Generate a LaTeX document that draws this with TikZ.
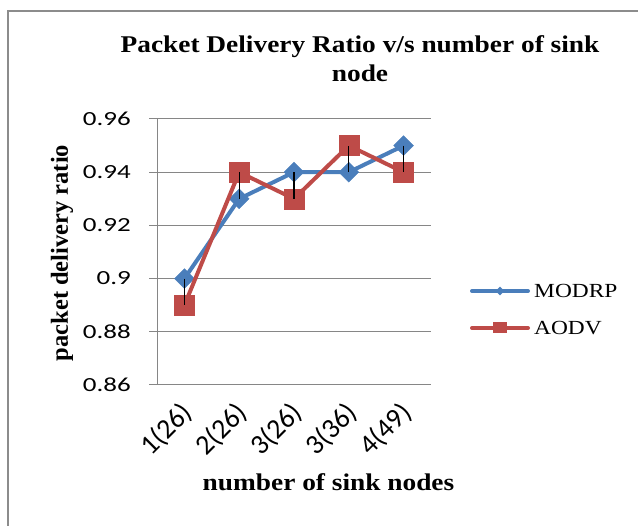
\documentclass[tikz,border=0pt]{standalone}
\usepackage{fontspec}
\usetikzlibrary{shapes.geometric}
\newfontfamily\titlefont[FakeStretch=1.14]{Liberation Serif}
\newfontfamily\ytitlefont{Liberation Serif}
\newfontfamily\tickfont[FakeStretch=1.35]{Carlito}
\newfontfamily\xtickfont{Carlito}
\newfontfamily\legfont[FakeStretch=1.17]{Liberation Serif}
\definecolor{modrp}{HTML}{4A7EBB}
\definecolor{aodv}{HTML}{BE4B48}
\definecolor{gridgray}{HTML}{868686}
\definecolor{framegray}{HTML}{8C8C8C}
\tikzset{
  gridline/.style={draw=gridgray, line width=1pt},
  modline/.style={draw=modrp, line width=4pt, line join=round, line cap=round},
  aodvline/.style={draw=aodv, line width=4pt, line join=round, line cap=round},
  modmark/.style={diamond, fill=modrp, draw=modrp, minimum size=20pt, inner sep=0pt},
  aodvmark/.style={rectangle, fill=aodv, draw=aodv, minimum size=20pt, inner sep=0pt},
  hilo/.style={draw=black, line width=1.3pt},
  ytick/.style={anchor=base east, inner sep=0pt, font=\tickfont\fontsize{20}{24}\selectfont},
  xtick/.style={anchor=center, rotate=45, inner sep=0pt, font=\xtickfont\fontsize{28}{32}\selectfont},
  titletext/.style={inner sep=0pt, font=\titlefont\bfseries\fontsize{24}{28}\selectfont},
  ytitletext/.style={inner sep=0pt, rotate=90, font=\ytitlefont\bfseries\fontsize{24.5}{28}\selectfont},
  legtext/.style={anchor=base west, inner sep=0pt, font=\legfont\fontsize{20}{24}\selectfont},
}
\begin{document}
\begin{tikzpicture}[x=1pt,y=-1pt]
\useasboundingbox (0,0) rectangle (638,526);
% outer frame
\coordinate (fBL) at (8,540);
\coordinate (fTL) at (8,11);
\coordinate (fTR) at (650,11);
\draw[framegray, line width=2.5pt] (fBL) -- (fTL) -- (fTR);
% gridlines and y labels
\foreach \v/\yy/\lab in {96/119/0.96, 94/172.2/0.94, 92/225.4/0.92, 90/278.6/0.9, 88/331.8/0.88, 86/385/0.86} {
  \coordinate (gl\v) at (149,\yy);
  \coordinate (gr\v) at (431,\yy);
  \draw[gridline] (gl\v) -- (gr\v);
  \node[ytick] (yl\v) at (131,\yy+6.3) {\lab};
}
% y axis
\coordinate (yaxT) at (157,119);
\coordinate (yaxB) at (157,385);
\draw[gridline] (yaxT) -- (yaxB);
% data points
\foreach \i/\xx/\m/\a in {1/184.4/278.6/305.2, 2/239.2/198.8/172.2, 3/294/172.2/198.8, 4/348.8/172.2/145.6, 5/403.6/145.6/172.2} {
  \coordinate (m\i) at (\xx,\m);
  \coordinate (a\i) at (\xx,\a);
}
\draw[modline] (m1) -- (m2) -- (m3) -- (m4) -- (m5);
\foreach \i in {1,...,5} { \node[modmark] (mk\i) at (m\i) {}; }
\draw[aodvline] (a1) -- (a2) -- (a3) -- (a4) -- (a5);
\foreach \i in {1,...,5} { \node[aodvmark] (ak\i) at (a\i) {}; }
\foreach \i in {1,...,5} { \draw[hilo] (m\i) -- (a\i); }
% x tick labels
\foreach \i/\xx/\lab in {1/184.4/1(26), 2/239.2/2(26), 3/294/3(26), 4/348.8/3(36), 5/403.6/4(49)} {
  \node[xtick] (xl\i) at (\xx-17.5,430) {\lab};
}
% titles
\node[titletext, anchor=base] (t1) at (360,53) {Packet Delivery Ratio v/s number  of sink};
\node[titletext, anchor=base] (t2) at (360,82) {node};
\node[ytitletext] (yt) at (62,253) {packet delivery ratio};
\node[titletext, anchor=base] (xt) at (328.5,490.7) {number of sink nodes};
% legend
\coordinate (lm1) at (472,291);
\coordinate (lm2) at (528,291);
\draw[modline] (lm1) -- (lm2);
\node[diamond, fill=modrp, minimum size=9pt, inner sep=0pt] (lmk) at (500,291) {};
\node[legtext] (lmt) at (534,297.5) {MODRP};
\coordinate (la1) at (472,328);
\coordinate (la2) at (528,328);
\draw[aodvline] (la1) -- (la2);
\node[rectangle, fill=aodv, minimum width=14pt, minimum height=11pt, inner sep=0pt] (lak) at (500,328) {};
\node[legtext] (lat) at (534,334.5) {AODV};
\end{tikzpicture}
\end{document}
